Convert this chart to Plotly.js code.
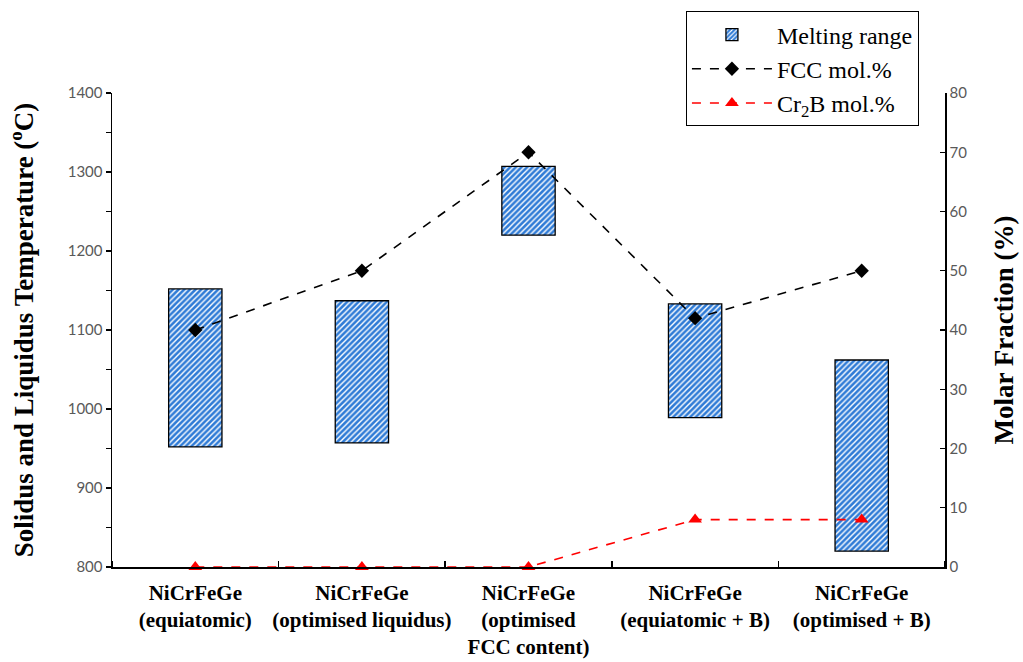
<!DOCTYPE html>
<html>
<head>
<meta charset="utf-8">
<script src="https://cdn.plot.ly/plotly-3.0.1.min.js"></script>
<style>html,body{margin:0;padding:0;background:#fff;}#chart{width:1023px;height:662px;}</style>
</head>
<body>
<div id="chart"></div>
<script>
const categories = [
  "<b>NiCrFeGe</b><br><b>(equiatomic)</b>",
  "<b>NiCrFeGe</b><br><b>(optimised liquidus)</b>",
  "<b>NiCrFeGe</b><br><b>(optimised</b><br><b>FCC content)</b>",
  "<b>NiCrFeGe</b><br><b>(equiatomic + B)</b>",
  "<b>NiCrFeGe</b><br><b>(optimised + B)</b>"
];
const solidus = [952, 957, 1220, 989, 820];
const liquidus = [1152, 1137, 1307, 1133, 1062];
const fccMol = [40, 50, 70, 42, 50];
const cr2bMol = [0, 0, 0, 8, 8];

const range = liquidus.map((v, i) => v - solidus[i]);
const xs = categories.map((c, i) => i);

const traces = [
  {
    type: 'bar', name: 'Melting range', x: xs, y: range, base: solidus,
    width: 0.32,
    marker: {
      color: '#2f7bd6',
      line: {color: '#000', width: 1.3},
      pattern: {shape: '/', bgcolor: '#2f7bd6', fgcolor: '#ffffff', size: 4, solidity: 0.35}
    },
    yaxis: 'y'
  },
  {
    type: 'scatter', mode: 'lines+markers', name: 'FCC mol.%', x: xs, y: fccMol,
    yaxis: 'y2',
    line: {color: '#000', width: 1.6, dash: 'dash'},
    marker: {symbol: 'diamond', size: 11, color: '#000'}
  },
  {
    type: 'scatter', mode: 'lines+markers', name: 'Cr<sub>2</sub>B mol.%', x: xs, y: cr2bMol,
    yaxis: 'y2',
    line: {color: '#ff0000', width: 1.6, dash: 'dash'},
    marker: {symbol: 'triangle-up', size: 12, color: '#ff0000'},
    cliponaxis: false
  }
];

const tickFont = {family: 'Lato, Carlito, sans-serif', size: 15, color: '#595959'};
const titleFont = {family: '"Liberation Serif", "Times New Roman", serif', size: 27, color: '#000'};

const layout = {
  width: 1023, height: 662,
  margin: {l: 112, r: 78, t: 88, b: 95},
  paper_bgcolor: '#fff', plot_bgcolor: '#fff',
  showlegend: true,
  legend: {
    x: 0.689, y: 1.172, xanchor: 'left', yanchor: 'top',
    bordercolor: '#000', borderwidth: 1, bgcolor: '#fff',
    font: {family: '"Liberation Serif", "Times New Roman", serif', size: 24, color: '#000'},
    itemwidth: 80, tracegroupgap: 0
  },
  xaxis: {
    range: [-0.5, 4.5],
    tickmode: 'array', tickvals: xs, ticktext: categories,
    showline: true, linecolor: '#000', linewidth: 1.5,
    ticks: '', showgrid: false, zeroline: false,
    ticklabelstandoff: 6,
    tickfont: {family: '"Liberation Serif", "Times New Roman", serif', size: 21, color: '#000'},
    minor: {tickmode: 'array', tickvals: [-0.5, 0.5, 1.5, 2.5, 3.5, 4.5], ticks: 'inside', ticklen: 6, tickcolor: '#000', tickwidth: 1.5},
    fixedrange: true
  },
  yaxis: {
    range: [800, 1400], dtick: 100,
    showline: true, linecolor: '#000', linewidth: 1.5,
    ticks: 'outside', ticklen: 5, tickcolor: '#000', tickwidth: 1.2,
    minor: {dtick: 50, ticks: 'outside', ticklen: 5, tickcolor: '#000', tickwidth: 1.2},
    showgrid: false, zeroline: false,
    tickfont: tickFont,
    title: {text: '<b>Solidus and Liquidus Temperature (<sup>o</sup>C)</b>', font: titleFont, standoff: 26}
  },
  yaxis2: {
    range: [0, 80], dtick: 10, overlaying: 'y', side: 'right',
    showline: true, linecolor: '#000', linewidth: 1.5,
    ticks: 'inside', ticklen: 5, tickcolor: '#000', tickwidth: 1.2,
    showgrid: false, zeroline: false,
    tickfont: tickFont,
    title: {text: '<b>Molar Fraction (%)</b>', font: titleFont, standoff: 28}
  }
};

Plotly.newPlot('chart', traces, layout, {displayModeBar: false, staticPlot: true});
</script>
</body>
</html>
